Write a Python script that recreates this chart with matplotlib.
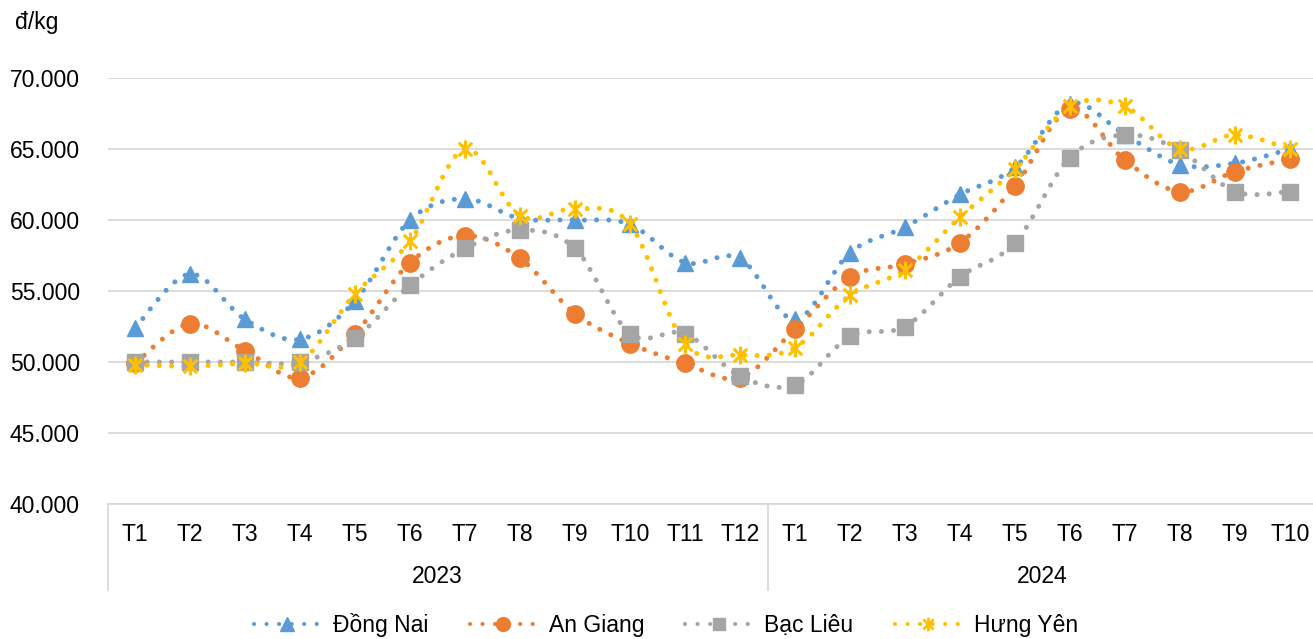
import numpy as np
import matplotlib
matplotlib.use('Agg')
import matplotlib.pyplot as plt
from matplotlib.path import Path
from matplotlib.patches import PathPatch
from matplotlib.lines import Line2D
import matplotlib.transforms as mtransforms

months_2023 = ['T1', 'T2', 'T3', 'T4', 'T5', 'T6', 'T7', 'T8', 'T9', 'T10', 'T11', 'T12']
months_2024 = ['T1', 'T2', 'T3', 'T4', 'T5', 'T6', 'T7', 'T8', 'T9', 'T10']
years = ['2023', '2024']

dong_nai = [52400, 56200, 53000, 51600, 54300, 60000, 61500, 60100, 60000, 59700, 57000, 57300,
            53000, 57700, 59500, 61800, 63700, 68200, 66000, 63900, 64000, 65000]
an_giang = [49900, 52700, 50800, 48900, 52000, 57000, 58900, 57300, 53400, 51300, 49900, 48900,
            52300, 56000, 56900, 58400, 62400, 67800, 64200, 62000, 63400, 64300]
bac_lieu = [50000, 50000, 50000, 50000, 51700, 55400, 58000, 59300, 58000, 52000, 52000, 49000,
            48400, 51800, 52500, 56000, 58400, 64400, 66000, 64900, 62000, 62000]
hung_yen = [49800, 49700, 49900, 50000, 54800, 58500, 65000, 60300, 60800, 59700, 51300, 50500,
            51000, 54700, 56500, 60200, 63600, 68000, 68000, 65000, 66000, 65000]

series_names = ['Đồng Nai', 'An Giang', 'Bạc Liêu', 'Hưng Yên']
series_values = [dong_nai, an_giang, bac_lieu, hung_yen]
colors = ['#5B9BD5', '#ED7D31', '#A5A5A5', '#FFC000']

# excel-like asterisk marker: vertical bar plus an x
star = Path([(0, -1), (0, 1), (-0.75, -0.75), (0.75, 0.75), (-0.75, 0.75), (0.75, -0.75)],
            [Path.MOVETO, Path.LINETO, Path.MOVETO, Path.LINETO, Path.MOVETO, Path.LINETO])
markers = ['^', 'o', 's', star]
msizes = [12, 12.5, 11, 13]


def smooth_path(x, y):
    # Catmull-Rom style bezier through the points, like Excel's smoothed line
    pts = np.column_stack([x, y]).astype(float)
    n = len(pts)
    verts = [pts[0]]
    codes = [Path.MOVETO]
    for i in range(n - 1):
        p0 = pts[i - 1] if i > 0 else pts[i]
        p1 = pts[i]
        p2 = pts[i + 1]
        p3 = pts[i + 2] if i + 2 < n else pts[i + 1]
        c1 = p1 + (p2 - p0) / 6.0
        c2 = p2 - (p3 - p1) / 6.0
        verts += [c1, c2, p2]
        codes += [Path.CURVE4] * 3
    return Path(verts, codes)


plt.rcParams['font.family'] = ['Liberation Sans', 'DejaVu Sans']
fs = 16.5

fig = plt.figure(figsize=(13.13, 6.39), dpi=100)
ax = fig.add_axes([107.5 / 1313, 1 - 504 / 639, 1210 / 1313, 426 / 639])

labels = months_2023 + months_2024
x = np.arange(len(labels))
dots = (0, (0.01, 2.43))
lw = 3.6

for name, vals, c, m, ms in zip(series_names, series_values, colors, markers, msizes):
    patch = PathPatch(smooth_path(x, vals), fill=False, edgecolor=c, lw=lw,
                      linestyle=dots, capstyle='round', zorder=3)
    ax.add_patch(patch)
    if m is star:
        ax.plot(x, vals, linestyle='none', marker=m, ms=ms, mec=c, mfc='none', mew=2.2, zorder=4)
    else:
        ax.plot(x, vals, linestyle='none', marker=m, ms=ms, mec=c, mfc=c, zorder=4)

ax.set_xlim(-0.5, len(labels) - 0.5)
ax.set_ylim(40000, 70000)
ax.set_yticks(np.arange(40000, 70001, 5000))
ax.set_yticklabels([f'{v:,}'.replace(',', '.') for v in range(40000, 70001, 5000)])
ax.grid(axis='y', color='#D9D9D9', lw=1.3)
ax.set_axisbelow(True)
for s in ['top', 'right', 'left']:
    ax.spines[s].set_visible(False)
ax.spines['bottom'].set_color('#D9D9D9')
ax.spines['bottom'].set_linewidth(1.3)
ax.tick_params(axis='y', length=0, pad=20, labelsize=fs)
ax.set_xticks(x)
ax.set_xticklabels(labels)
ax.tick_params(axis='x', length=0, pad=14, labelsize=fs)

# year group labels and separators
trans = mtransforms.blended_transform_factory(ax.transData, ax.transAxes)
bounds = [-0.5, len(months_2023) - 0.5, len(labels) - 0.5]
for b in bounds:
    ax.plot([b, b], [0, -0.202], color='#D9D9D9', lw=1.3, transform=trans, clip_on=False)
for i, yr in enumerate(years):
    ax.text((bounds[i] + bounds[i + 1]) / 2, -0.17, yr, transform=trans,
            ha='center', va='center', fontsize=fs)

fig.text(15 / 1313, 1 - 22 / 639, 'đ/kg', ha='left', va='center', fontsize=fs)

handles = []
for name, c, m, ms in zip(series_names, colors, markers, msizes):
    if m is star:
        h = Line2D([], [], color=c, lw=3, linestyle=(0, (0.01, 3.0)), dash_capstyle='round',
                   marker=m, ms=ms * 0.75, mec=c, mfc='none', mew=2)
    else:
        h = Line2D([], [], color=c, lw=3, linestyle=(0, (0.01, 3.0)), dash_capstyle='round',
                   marker=m, ms=ms * 0.8, mec=c, mfc=c)
    handles.append(h)
fig.legend(handles, series_names, loc='center', bbox_to_anchor=(666 / 1313, 1 - 625 / 639),
           ncol=4, frameon=False, handlelength=2.9, handletextpad=0.55, columnspacing=1.8,
           fontsize=fs, borderpad=0)

fig.savefig('out.png', dpi=100)
